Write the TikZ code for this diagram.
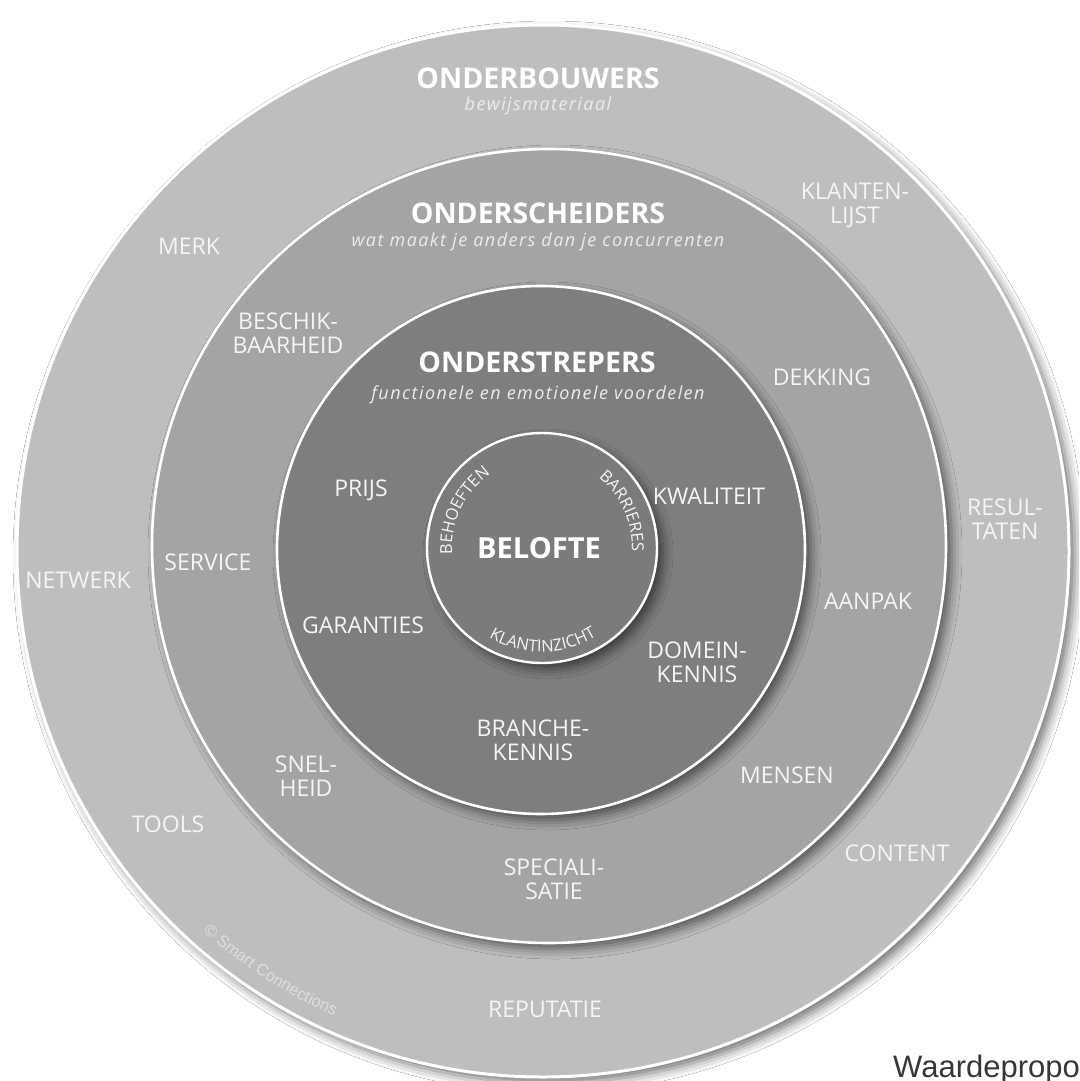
\documentclass[tikz,border=0pt]{standalone}
\usepackage{fontspec}
\setmainfont{Open Sans}
\newfontfamily\helvfont{Liberation Sans}
\usetikzlibrary{calc,decorations.text,shadows.blur}
\definecolor{ringA}{RGB}{190,190,190}
\definecolor{ringB}{RGB}{164,164,164}
\definecolor{ringC}{RGB}{126,126,126}
\definecolor{ringD}{RGB}{123,123,123}
\definecolor{lbl}{RGB}{245,245,245}
\definecolor{sublbl}{RGB}{236,236,236}
\definecolor{cpc}{RGB}{222,222,222}
\definecolor{wpc}{RGB}{55,55,55}
\newcommand\arcfnt{\fontsize{16.5}{16.5}\selectfont}
\newcommand\cpfnt{\helvfont\fontsize{16.5}{16.5}\selectfont}
\begin{document}
\begin{tikzpicture}[x=1pt,y=-1pt,
  ring/.style={draw=white, line width=3pt,
    blur shadow={shadow xshift=6pt, shadow yshift=-6pt, shadow blur radius=10pt, shadow opacity=55}},
  lab/.style={text=lbl, font=\fontsize{23}{24}\selectfont, align=center, inner sep=0pt},
  ttl/.style={text=white, font=\bfseries\fontsize{28.5}{30}\selectfont, inner sep=0pt},
  sub/.style={text=sublbl, font=\itshape\fontsize{18}{20}\selectfont\addfontfeature{LetterSpace=8}, inner sep=0pt},
  arctext/.style={decorate, decoration={text along path, text align=center, text color=lbl, text={|\arcfnt|#1}}},
]
\useasboundingbox (0,0) rectangle (1079,1081);
\clip (0,0) rectangle (1079,1081);
\fill[white] (0,0) rectangle (1079,1081);
\coordinate (c0) at (543,551);
\coordinate (c1) at (549,546);
\coordinate (c2) at (541,550);
\coordinate (c3) at (542,548);
% rings
\filldraw[fill=ringA, ring] (c0) circle[radius=526pt];
\filldraw[fill=ringB, ring, line width=2.6pt] (c1) circle[radius=397pt];
\filldraw[fill=ringC, ring, line width=2.6pt] (c2) circle[radius=264pt];
\filldraw[fill=ringD, ring, line width=2.4pt] (c3) circle[radius=115pt];
% outer ring texts
\node[ttl] (onderbouwers) at (538,78) {ONDERBOUWERS};
\node[sub] (bewijs) at (538,106) {bewijsmateriaal};
\node[lab] (merk) at (189,246) {MERK};
\node[lab] (klantenlijst) at (855,205) {KLANTEN-\\LIJST};
\node[lab] (resultaten) at (1005,519) {RESUL-\\TATEN};
\node[lab] (netwerk) at (78,580) {NETWERK};
\node[lab] (tools) at (168,824) {TOOLS};
\node[lab] (content) at (897,853) {CONTENT};
\node[lab] (reputatie) at (545,1009) {REPUTATIE};
% middle ring texts
\node[ttl] (onderscheiders) at (538,213) {ONDERSCHEIDERS};
\node[sub] (wat) at (538,242) {wat maakt je anders dan je concurrenten};
\node[lab] (beschik) at (288,333) {BESCHIK-\\BAARHEID};
\node[lab] (dekking) at (822,377) {DEKKING};
\node[lab] (service) at (208,562) {SERVICE};
\node[lab] (aanpak) at (868,601) {AANPAK};
\node[lab] (snelheid) at (306,776) {SNEL-\\HEID};
\node[lab] (mensen) at (787,775) {MENSEN};
\node[lab] (specialisatie) at (554,879) {SPECIALI-\\SATIE};
% inner ring texts
\node[ttl] (onderstrepers) at (537,362) {ONDERSTREPERS};
\node[sub] (functionele) at (538,395) {functionele en emotionele voordelen};
\node[lab] (prijs) at (361,490) {PRIJS};
\node[lab] (kwaliteit) at (709,496) {KWALITEIT};
\node[lab] (garanties) at (363,625) {GARANTIES};
\node[lab] (domeinkennis) at (697,662) {DOMEIN-\\KENNIS};
\node[lab] (branchekennis) at (533,740) {BRANCHE-\\KENNIS};
% centre
\node[ttl, font=\bfseries\fontsize{29}{30}\selectfont] (belofte) at (539,548) {BELOFTE};
\path[arctext=BEHOEFTEN] ($(c3)+(192:90pt)$) arc[start angle=192, end angle=117, radius=90pt];
\path[arctext=BARRIERES] ($(c3)+(62:90pt)$) arc[start angle=62, end angle=-13, radius=90pt];
\path[arctext=KLANTINZICHT] ($(c3)+(228:104pt)$) arc[start angle=228, end angle=313, radius=104pt];
% copyright
\path[decorate, decoration={text along path, text align=center, text color=cpc, text={|\cpfnt|© Smart Connections}}]
  ($(c0)+(218:510pt)$) arc[start angle=218, end angle=256, radius=510pt];
% caption (cut off at the right edge)
\node[anchor=base west, inner sep=0pt, text=wpc, font=\helvfont\fontsize{31}{31}\selectfont] (waarde) at (893,1077) {Waardepropo};
\end{tikzpicture}
\end{document}
